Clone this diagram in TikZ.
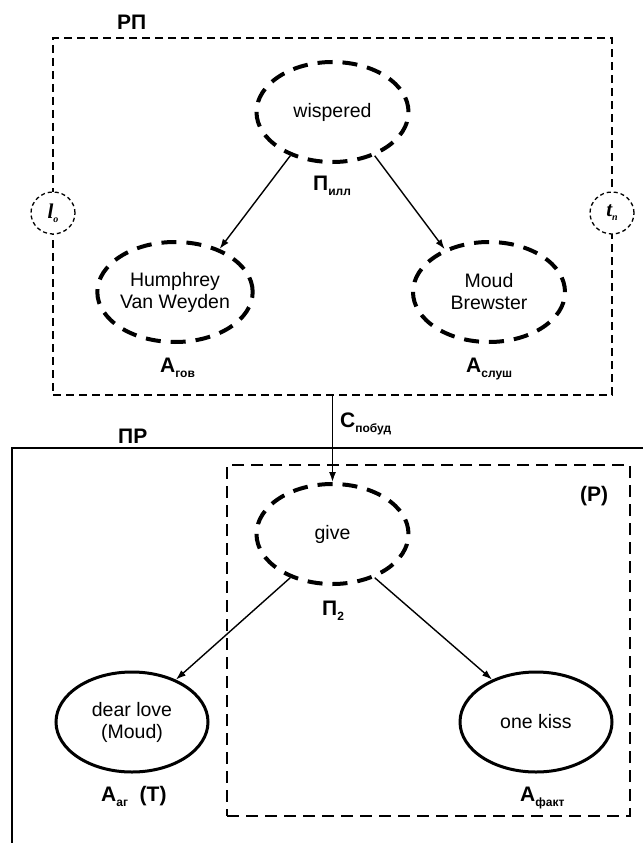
\documentclass[tikz,border=0pt]{standalone}
\usepackage{fontspec}
\setmainfont{Liberation Sans}
\newfontfamily\tnrfont{Liberation Serif}
\usetikzlibrary{shapes.geometric,arrows.meta}
\newcommand\lsub[1]{\raisebox{-5pt}{\fontsize{12}{12}\selectfont\bfseries #1}}
\begin{document}
\begin{tikzpicture}[x=1pt,y=-1pt,
  lab/.style={font=\fontsize{21}{24}\selectfont\bfseries, inner sep=0, anchor=base west},
  ell/.style={ellipse, minimum width=152pt, minimum height=100pt, inner sep=0, align=center,
    font=\fontsize{19.5}{22}\selectfont},
  dell/.style={ell, draw, line width=4pt, dash pattern=on 15pt off 10pt},
  sell/.style={ell, draw, line width=3pt},
  smallc/.style={ellipse, draw, line width=1.3pt, dash pattern=on 4pt off 3pt, fill=white,
    minimum width=44pt, minimum height=42pt, inner sep=0,
    font=\fontsize{21}{22}\selectfont\tnrfont\bfseries\itshape},
  arr/.style={-{Latex[length=10pt,width=7pt]}, line width=1.4pt},
  rpbox/.style={draw, line width=2pt, dash pattern=on 8pt off 5pt, inner sep=0},
  rbox/.style={draw, line width=2pt, dash pattern=on 12pt off 7pt, inner sep=0},
]
\useasboundingbox (0,0) rectangle (643,843);

% РП box
\node[rpbox, minimum width=559pt, minimum height=357pt] (rp) at (332.5,216.5) {};
\node[lab] (rplab) at (117,30) {РП};
\node[smallc] (lo) at (53,213) {l\raisebox{-4pt}{\fontsize{10}{10}\selectfont o}};
\node[smallc] (tn) at (612,213) {t\raisebox{-4pt}{\fontsize{10}{10}\selectfont п}};

\node[dell] (w) at (332.5,112) {wispered};
\node[lab] (pill) at (313,190) {П\lsub{илл}};
\node[dell] (h) at (175,292) {Humphrey\\Van Weyden};
\node[lab] (agov) at (160,372) {А\lsub{гов}};
\node[dell] (m) at (489,292) {Moud\\Brewster};
\node[lab] (asl) at (466,372) {А\lsub{слуш}};
\draw[arr] (w.226) -- (h.44);
\draw[arr] (w.314) -- (m.136);

% ПР
\coordinate (prb) at (12,843);
\coordinate (prt) at (643,448);
\draw[line width=2pt] (prb) |- (prt);
\node[lab] (prlab) at (118,443) {ПР};

% (Р) box
\node[rbox, minimum width=403pt, minimum height=351pt] (rb) at (428.5,640.5) {};
\node[lab] (rlab) at (580,501) {(Р)};

\node[dell] (g) at (332.5,534) {give};
\node[lab] (p2) at (322,615) {П\lsub{2}};
\draw[arr] (rp.south) -- (g.north);
\node[lab] (cpob) at (340,427) {С\lsub{побуд}};

\node[sell] (d) at (132,722) {dear love\\(Moud)};
\node[lab] (aag) at (101,801) {А\lsub{аг}\ \ (Т)};
\node[sell] (k) at (536,722) {one kiss};
\node[lab] (afakt) at (520,801) {А\lsub{факт}};
\draw[arr] (g.226) -- (d.44);
\draw[arr] (g.314) -- (k.136);
\end{tikzpicture}
\end{document}
